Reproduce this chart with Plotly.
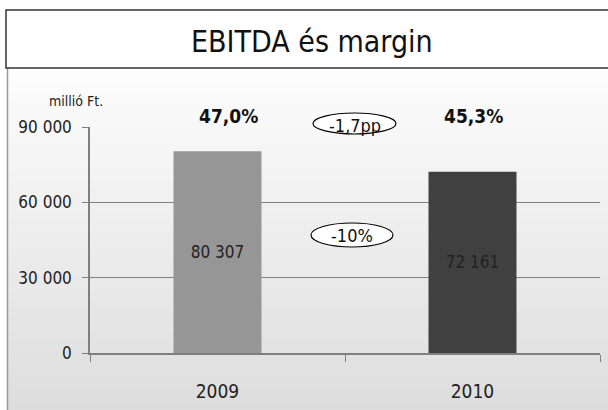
import plotly.graph_objects as go

years = ["2009", "2010"]
ebitda = [80307, 72161]
margins = [47.0, 45.3]
bar_colors = ["#969696", "#404040"]
y_ticks = [0, 30000, 60000, 90000]
y_ticktext = ["0", "30 000", "60 000", "90 000"]
title_text = "EBITDA és margin"
unit_text = "millió Ft."
margin_change = "-1,7pp"
ebitda_change = "-10%"

W, H = 608, 410
L, R, T, B = 90, 8, 127, 57
PW, PH = W - L - R, H - T - B
FONT = "Liberation Sans Narrow, DejaVu Sans Condensed, Liberation Sans, Arial, sans-serif"

def px(X):
    return (X - L) / PW

def py(Y):
    return (H - B - Y) / PH

fig = go.Figure()
fig.add_trace(go.Bar(
    x=years, y=ebitda, marker=dict(color=bar_colors, line=dict(width=0)),
    texttemplate="%{y:,.0f}", textposition="inside", insidetextanchor="middle",
    textfont=dict(family=FONT, size=17, color="#222222"),
    width=0.345, hoverinfo="skip",
))

shapes = []
n = 40
top, bot = 68, 410
for i in range(n):
    y0 = top + (bot - top) * i / n
    y1 = top + (bot - top) * (i + 1) / n + 0.5
    t = (i + 0.5) / n
    c = int(round(253 - (253 - 221) * t))
    shapes.append(dict(type="rect", xref="paper", yref="paper", layer="below",
                       x0=px(7), x1=px(620), y0=py(y1), y1=py(y0),
                       line=dict(width=0), fillcolor=f"rgb({c},{c},{c})"))
shapes.append(dict(type="line", xref="paper", yref="paper", layer="below",
                   x0=px(7.5), x1=px(7.5), y0=py(68), y1=py(415),
                   line=dict(color="#9a9a9a", width=1.5)))
shapes.append(dict(type="rect", xref="paper", yref="paper", layer="above",
                   x0=px(6), x1=px(620), y0=py(68), y1=py(10),
                   line=dict(color="#333333", width=1.5), fillcolor="white"))
shapes.append(dict(type="circle", xref="paper", yref="paper", layer="above",
                   x0=px(313), x1=px(396), y0=py(134), y1=py(113),
                   line=dict(color="black", width=1.2), fillcolor="white"))
shapes.append(dict(type="circle", xref="paper", yref="paper", layer="above",
                   x0=px(311), x1=px(393), y0=py(247), y1=py(223),
                   line=dict(color="black", width=1.2), fillcolor="white"))

annotations = [
    dict(text=title_text, xref="paper", yref="paper", x=px(312), y=py(41),
         showarrow=False, font=dict(family=FONT, size=30, color="#111111"),
         xanchor="center", yanchor="middle"),
    dict(text=unit_text, xref="paper", yref="paper", x=px(76), y=py(101),
         showarrow=False, font=dict(family=FONT, size=14, color="#222222"),
         xanchor="center", yanchor="middle"),
    dict(text=margin_change, xref="paper", yref="paper", x=px(355), y=py(125),
         showarrow=False, font=dict(family=FONT, size=18, color="#111111"),
         xanchor="center", yanchor="middle"),
    dict(text=ebitda_change, xref="paper", yref="paper", x=px(352), y=py(235),
         showarrow=False, font=dict(family=FONT, size=18, color="#111111"),
         xanchor="center", yanchor="middle"),
]
label_shift = [11, 1]
for i, m in enumerate(margins):
    annotations.append(dict(
        text="<b>" + f"{m:.1f}".replace(".", ",") + "%</b>",
        x=i, xref="x", yref="paper", y=py(116), showarrow=False,
        xshift=label_shift[i],
        font=dict(family=FONT, size=19, color="#111111"),
        xanchor="center", yanchor="middle"))

fig.update_layout(
    width=W, height=H, margin=dict(l=L, r=R, t=T, b=B),
    paper_bgcolor="white", plot_bgcolor="rgba(0,0,0,0)",
    separators=", ", showlegend=False,
    shapes=shapes, annotations=annotations,
    font=dict(family=FONT, color="#222222"),
    bargap=0.655,
)
fig.update_yaxes(range=[0, 90000], tickvals=y_ticks, ticktext=y_ticktext,
                 showgrid=True, gridcolor="#808080", gridwidth=1,
                 showline=True, linecolor="#7f7f7f", linewidth=1.5,
                 ticks="outside", ticklen=6, tickcolor="#7f7f7f",
                 ticklabelstandoff=7, zeroline=False, automargin=False,
                 tickfont=dict(family=FONT, size=17, color="#222222"))
fig.update_xaxes(type="category", range=[-0.5, 1.5], showline=True,
                 linecolor="#7f7f7f", linewidth=1.5,
                 ticks="outside", tickson="boundaries", ticklen=7,
                 tickcolor="#7f7f7f", ticklabelstandoff=20, automargin=False,
                 tickangle=0,
                 tickfont=dict(family=FONT, size=19, color="#222222"))

fig.write_html("out.html", config={"displayModeBar": False},
               post_script="document.body.style.margin='0';document.body.style.overflow='hidden';")
